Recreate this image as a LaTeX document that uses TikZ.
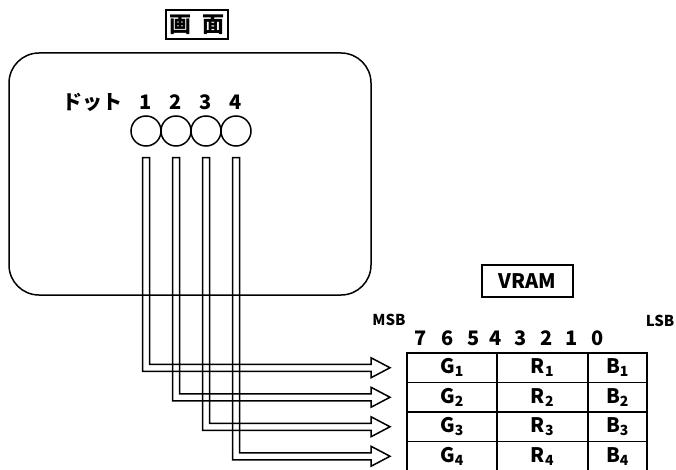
\documentclass[tikz,border=0pt]{standalone}
\usepackage{fontspec}
\setmainfont{Noto Sans CJK JP}
\usetikzlibrary{positioning}

\begin{document}
\begin{tikzpicture}[
  x=1pt, y=-1pt, line width=1.5pt, font=\bfseries\fontsize{20}{22}\selectfont,
  boxed/.style={rectangle, draw, inner sep=0pt, outer sep=0pt, align=center},
  dotc/.style={circle, draw, minimum size=30pt, inner sep=0pt},
  vcell/.style={boxed, minimum height=29.5pt},
  tube/.style={draw, line join=miter},
  lbl/.style={inner sep=0pt},
  sb/.style={lbl, font=\bfseries\fontsize{15}{17}\selectfont},
]
\useasboundingbox (0,0) rectangle (676,470);

% screen side
\node[boxed, minimum width=62pt, minimum height=29pt, font=\bfseries\fontsize{22}{24}\selectfont] (title) at (197,24.5) {画\hspace{0.5em}面};
\node[boxed, rounded corners=30pt, minimum width=362pt, minimum height=242pt] (screen) at (190,174) {};
\node[lbl] (dotlbl) at (92,102) {ドット};
\foreach \k/\x in {1/146,2/176,3/206,4/236}{
  \node[lbl] (num\k) at (\x,102) {\k};
  \node[dotc] (dot\k) at (\x,131) {};
}

% VRAM side
\node[boxed, minimum width=91pt, minimum height=32pt] (vram) at (527.5,281) {VRAM};
\node[sb] (msb) at (389,320) {MSB};
\node[sb] (lsb) at (660,321) {LSB};
\foreach \b/\x in {7/421,6/448,5/474,4/496,3/521,2/547,1/572,0/598}
  \node[lbl] (bit\b) at (\x,338) {\b};
\foreach \k/\y in {1/367.75,2/397.25,3/426.75,4/456.25}{
  \node[vcell, minimum width=90pt] (g\k) at (452,\y) {G\textsubscript{\k}};
  \node[vcell, minimum width=91pt] (r\k) at (542.5,\y) {R\textsubscript{\k}};
  \node[vcell, minimum width=59pt] (b\k) at (617.5,\y) {B\textsubscript{\k}};
}

% hollow arrows dot -> row
\foreach \k in {1,...,4}{
  \coordinate (top\k) at ([yshift=-11pt]dot\k.south);
  \coordinate (tip\k) at ([xshift=-17pt]g\k.west);
  \draw[tube] ([xshift=-3.5pt]top\k) |- ([xshift=-19pt,yshift=-3.5pt]tip\k)
    -- ++(0,6.5) -- (tip\k) -- ++(-19,-10) -- ++(0,6.5) -| ([xshift=3.5pt]top\k) -- cycle;
}
\end{tikzpicture}
\end{document}
